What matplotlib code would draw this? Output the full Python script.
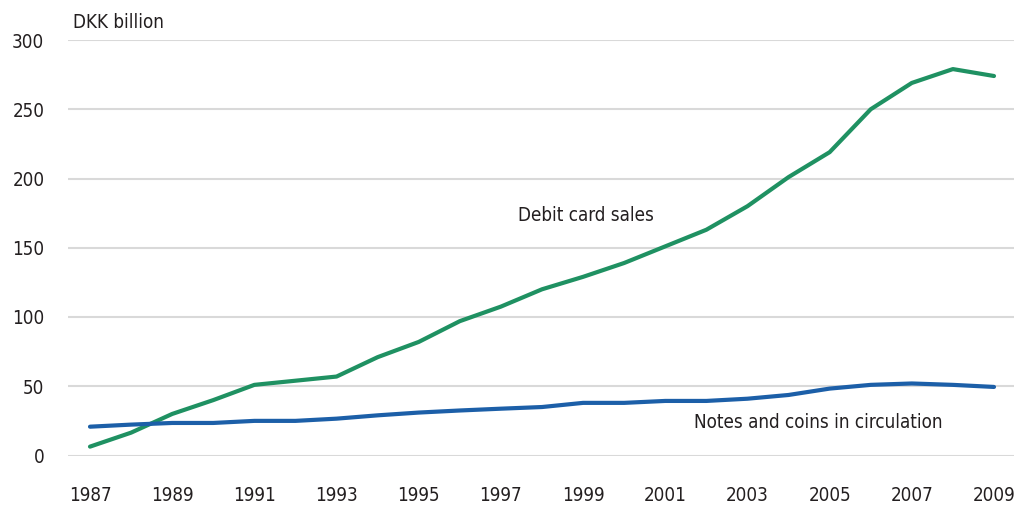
import matplotlib.pyplot as plt
from matplotlib import font_manager

years = list(range(1987, 2010))
debit_card = [6.4, 16.5, 30, 40, 51, 54, 57, 71, 82, 97, 107.5, 120, 129, 139, 151, 163,
              180, 201, 219, 250, 269, 279, 274]
notes_coins = [20.8, 22.3, 23.5, 23.5, 25, 25, 26.6, 29, 31, 32.5, 33.8, 35, 38, 38, 39.4,
               39.4, 41, 43.7, 48.3, 51, 52, 51, 49.5]
xticks = list(range(1987, 2010, 2))
yticks = [0, 50, 100, 150, 200, 250, 300]

# pick a narrow face if one is installed
entries = font_manager.fontManager.ttflist
narrow = [f for f in entries if f.stretch in ('condensed', 'semi-condensed', 'extra-condensed', 75, 87)
          or 'Narrow' in f.name or 'Condensed' in f.name]
if narrow:
    fam = narrow[0].name
    plt.rcParams['font.stretch'] = narrow[0].stretch
else:
    fam = 'Roboto'
plt.rcParams['font.family'] = [fam, 'DejaVu Sans']
text_col = '#231f20'
fs = 13.5

fig = plt.figure(figsize=(10.31, 5.07), dpi=100)
ax = fig.add_axes([68 / 1031, 1 - 455.5 / 507, (1014 - 68) / 1031, (455.5 - 40) / 507])

ax.plot(years, debit_card, color='#1f9162', lw=3, clip_on=False, solid_capstyle='round', zorder=3)
ax.plot(years, notes_coins, color='#1c5fa8', lw=3, clip_on=False, solid_capstyle='round', zorder=3)

ax.set_ylim(0, 300)
ax.set_xlim(1987 - 22 / 41.09, 2009 + 20 / 41.09)
ax.set_yticks(yticks)
ax.set_xticks(xticks)
ax.grid(axis='y', color='#d9d9d9', lw=1.5)
ax.set_axisbelow(True)
for s in ax.spines.values():
    s.set_visible(False)
ax.tick_params(axis='both', length=0, labelsize=fs, labelcolor=text_col)
ax.tick_params(axis='y', pad=17)
ax.tick_params(axis='x', pad=22)

fig.text(73 / 1031, 1 - 22 / 507, 'DKK billion', fontsize=fs, color=text_col, va='center', ha='left')
ax.text(1999.07, 173, 'Debit card sales', fontsize=fs, color=text_col, ha='center', va='center')
ax.text(2004.72, 23.5, 'Notes and coins in circulation', fontsize=fs, color=text_col,
        ha='center', va='center')

fig.savefig('out.png', dpi=100)
